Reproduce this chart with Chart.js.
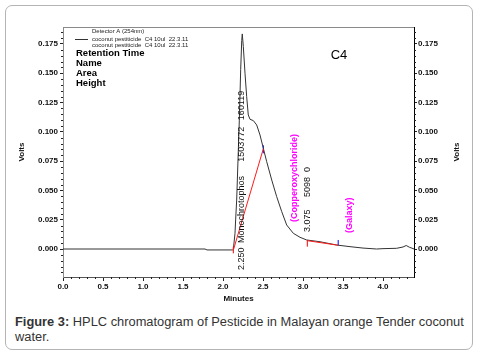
<!DOCTYPE html>
<html>
<head>
<meta charset="utf-8">
<script src="https://cdn.jsdelivr.net/npm/chart.js"></script>
<style>
  html, body { margin: 0; padding: 0; background: #fff; }
  #wrap { position: relative; width: 481px; height: 355px; overflow: hidden; }
  #frame { position: absolute; left: 5px; top: 5px; width: 468px; height: 345px;
           border: 1.5px solid #b4b4b4; border-radius: 7px; box-sizing: border-box; }
  #c { position: absolute; left: 0; top: 0; }
  #cap { position: absolute; left: 15px; top: 314px; width: 460px;
         font-family: "Liberation Sans", Arial, sans-serif; font-size: 12.85px;
         line-height: 15px; color: #333; }
</style>
</head>
<body>
<div id="wrap">
  <div id="frame"></div>
  <canvas id="c" width="481" height="310"></canvas>
  <div id="cap"><b>Figure 3:</b> HPLC chromatogram of Pesticide in Malayan orange Tender coconut water.</div>
</div>
<script>
// ---- data (minutes, volts) ----
const traceTimes = [0, 1.775, 1.80, 2.12, 2.129, 2.15, 2.158, 2.171, 2.204, 2.221, 2.234, 2.241, 2.254, 2.275, 2.296, 2.316, 2.338, 2.379, 2.421, 2.4625, 2.504, 2.546, 2.609, 2.671, 2.734, 2.796, 2.879, 2.9625, 3.046, 3.2125, 3.421, 3.5875, 3.75, 3.92, 4.0, 4.17, 4.25, 4.29, 4.33, 4.39];
const traceVolts = [0, 0, -0.0008, -0.0008, -0.0005, 0.0134, 0.0248, 0.0418, 0.110, 0.153, 0.178, 0.1836, 0.1728, 0.150, 0.130, 0.1144, 0.1107, 0.1096, 0.1059, 0.0973, 0.086, 0.0746, 0.0589, 0.0447, 0.0319, 0.0205, 0.0134, 0.010, 0.0077, 0.0062, 0.0034, 0.002, 0.0008, 0.0, 0.0003, 0.0006, 0.0017, 0.003, 0.0015, 0.0];

const base1Times = [2.129, 2.504];
const base1Volts = [-0.001, 0.0855];
const base2Times = [3.054, 3.44];
const base2Volts = [0.0071, 0.0032];
const startTick1Times = [2.129, 2.129];
const startTick1Volts = [-0.0037, 0.002];
const endTick1Times = [2.504, 2.504];
const endTick1Volts = [0.0817, 0.0885];
const startTick2Times = [3.054, 3.054];
const startTick2Volts = [0.002, 0.0077];
const endTick2Times = [3.44, 3.44];
const endTick2Volts = [0.0032, 0.0077];

const xTickValues = [0.0, 0.5, 1.0, 1.5, 2.0, 2.5, 3.0, 3.5, 4.0];
const yTickValues = [0.000, 0.025, 0.050, 0.075, 0.100, 0.125, 0.150, 0.175];

// peak annotation texts, their retention-time anchor and volts anchor (bottom of rotated text)
const peakLabelTexts = ["2.250", "Monochrotophos", "1503772", "160119", "3.075", "5098", "0", "(Copperoxychloride)", "(Galaxy)"];
const peakLabelTimes = [2.234, 2.234, 2.234, 2.234, 3.054, 3.054, 3.054, 2.90, 3.5875];
const peakLabelVolts = [-0.0179, 0.0051, 0.0745, 0.110, 0.0145, 0.0444, 0.0657, 0.023, 0.0137];
const peakLabelIsName = [false, false, false, false, false, false, false, true, true];

const legendLines = ["Detector A (254nm)", "coconut pestiticide  C4 10ul  22.3.11", "coconut pestiticide  C4 10ul  22.3.11"];
const tableHeads = ["Retention Time", "Name", "Area", "Height"];

const X_MIN = 0, X_MAX = 4.3875, Y_MIN = -0.0239, Y_MAX = 0.1895;

function pts(t, v) { return t.map((x, i) => ({ x: x, y: v[i] })); }

const FONT = '"Liberation Sans", Arial, sans-serif';

const extras = {
  id: 'extras',
  afterDraw(chart) {
    const ctx = chart.ctx, a = chart.chartArea;
    const xs = chart.scales.x, ys = chart.scales.y;
    ctx.save();
    // top border
    ctx.strokeStyle = '#8a8a8a'; ctx.lineWidth = 1;
    ctx.beginPath(); ctx.moveTo(a.left, a.top + 0.5); ctx.lineTo(a.right, a.top + 0.5); ctx.stroke();
    // minor ticks
    ctx.strokeStyle = '#222';
    ctx.beginPath();
    for (let i = 1; i <= 43; i++) {
      if (i % 5 === 0) continue;
      const px = Math.round(xs.getPixelForValue(i * 0.1)) + 0.5;
      ctx.moveTo(px, a.bottom); ctx.lineTo(px, a.bottom + 2);
    }
    for (let i = -4; i <= 37; i++) {
      if (i % 5 === 0) continue;
      const py = Math.round(ys.getPixelForValue(i * 0.005)) + 0.5;
      ctx.moveTo(a.left - 2, py); ctx.lineTo(a.left, py);
      ctx.moveTo(a.right, py); ctx.lineTo(a.right + 2, py);
    }
    ctx.stroke();

    // rotated peak labels
    ctx.textBaseline = 'middle'; ctx.textAlign = 'left';
    for (let i = 0; i < peakLabelTexts.length; i++) {
      const px = xs.getPixelForValue(peakLabelTimes[i]);
      const py = ys.getPixelForValue(peakLabelVolts[i]);
      ctx.save();
      ctx.translate(px, py); ctx.rotate(-Math.PI / 2);
      if (peakLabelIsName[i]) { ctx.fillStyle = '#ff00ff'; ctx.font = 'bold 9px ' + FONT; }
      else { ctx.fillStyle = '#111'; ctx.font = '9px ' + FONT; }
      ctx.fillText(peakLabelTexts[i], 0, 0);
      ctx.restore();
    }

    // legend
    ctx.fillStyle = '#222'; ctx.font = '6px ' + FONT; ctx.textAlign = 'left';
    ctx.fillText(legendLines[0], a.left + 29, a.top + 4);
    ctx.fillText(legendLines[1], a.left + 29, a.top + 12);
    ctx.fillText(legendLines[2], a.left + 29, a.top + 18);
    ctx.strokeStyle = '#333';
    ctx.beginPath(); ctx.moveTo(a.left + 12, a.top + 12.5); ctx.lineTo(a.left + 25, a.top + 12.5); ctx.stroke();
    ctx.fillStyle = '#000'; ctx.font = 'bold 9.5px ' + FONT;
    tableHeads.forEach((t, i) => ctx.fillText(t, a.left + 13, a.top + 26 + i * 10));

    // C4
    ctx.font = '13px ' + FONT; ctx.textAlign = 'center';
    ctx.fillText('C4', 339, 55);

    // axis titles
    ctx.font = 'bold 8px ' + FONT; ctx.fillStyle = '#111';
    ctx.fillText('Minutes', (a.left + a.right) / 2, 299);
    [22, 457].forEach(x => {
      ctx.save(); ctx.translate(x, 152); ctx.rotate(-Math.PI / 2);
      ctx.fillText('Volts', 0, 0); ctx.restore();
    });
    ctx.restore();
  }
};

const tickFont = { family: FONT, size: 8, weight: 'bold' };

new Chart(document.getElementById('c'), {
  type: 'line',
  data: {
    datasets: [
      { data: pts(base1Times, base1Volts), borderColor: '#ff1a1a' },
      { data: pts(base2Times, base2Volts), borderColor: '#ff1a1a' },
      { data: pts(startTick1Times, startTick1Volts), borderColor: '#ff0000' },
      { data: pts(startTick2Times, startTick2Volts), borderColor: '#ff0000' },
      { data: pts(traceTimes, traceVolts), borderColor: '#333333' },
      { data: pts(endTick1Times, endTick1Volts), borderColor: '#0000ff' },
      { data: pts(endTick2Times, endTick2Volts), borderColor: '#0000ff' }
    ]
  },
  options: {
    responsive: false,
    animation: false,
    devicePixelRatio: 1,
    layout: { padding: { top: 27, left: 0, right: 0, bottom: 0 } },
    elements: { point: { radius: 0 }, line: { borderWidth: 1, tension: 0 } },
    plugins: { legend: { display: false }, tooltip: { enabled: false } },
    scales: {
      x: {
        type: 'linear', min: X_MIN, max: X_MAX,
        afterFit(s) { s.height = 33; },
        afterBuildTicks(s) { s.ticks = xTickValues.map(v => ({ value: v })); },
        grid: { drawOnChartArea: false, tickLength: 4, color: '#222' },
        border: { display: true, color: '#555' },
        ticks: { font: tickFont, color: '#111', padding: 1, maxRotation: 0,
                 callback: v => v.toFixed(1) }
      },
      y: {
        type: 'linear', position: 'left', min: Y_MIN, max: Y_MAX,
        afterFit(s) { s.width = 63; },
        afterBuildTicks(s) { s.ticks = yTickValues.map(v => ({ value: v })); },
        grid: { drawOnChartArea: false, tickLength: 3, color: '#222' },
        border: { display: true, color: '#8a8a8a' },
        ticks: { font: tickFont, color: '#111', padding: 2, callback: v => v.toFixed(3) }
      },
      y2: {
        type: 'linear', position: 'right', min: Y_MIN, max: Y_MAX,
        afterFit(s) { s.width = 67; },
        afterBuildTicks(s) { s.ticks = yTickValues.map(v => ({ value: v })); },
        grid: { drawOnChartArea: false, tickLength: 3, color: '#222' },
        border: { display: true, color: '#000' },
        ticks: { font: tickFont, color: '#111', padding: 1, callback: v => v.toFixed(3) }
      }
    }
  },
  plugins: [extras]
});
</script>
</body>
</html>
